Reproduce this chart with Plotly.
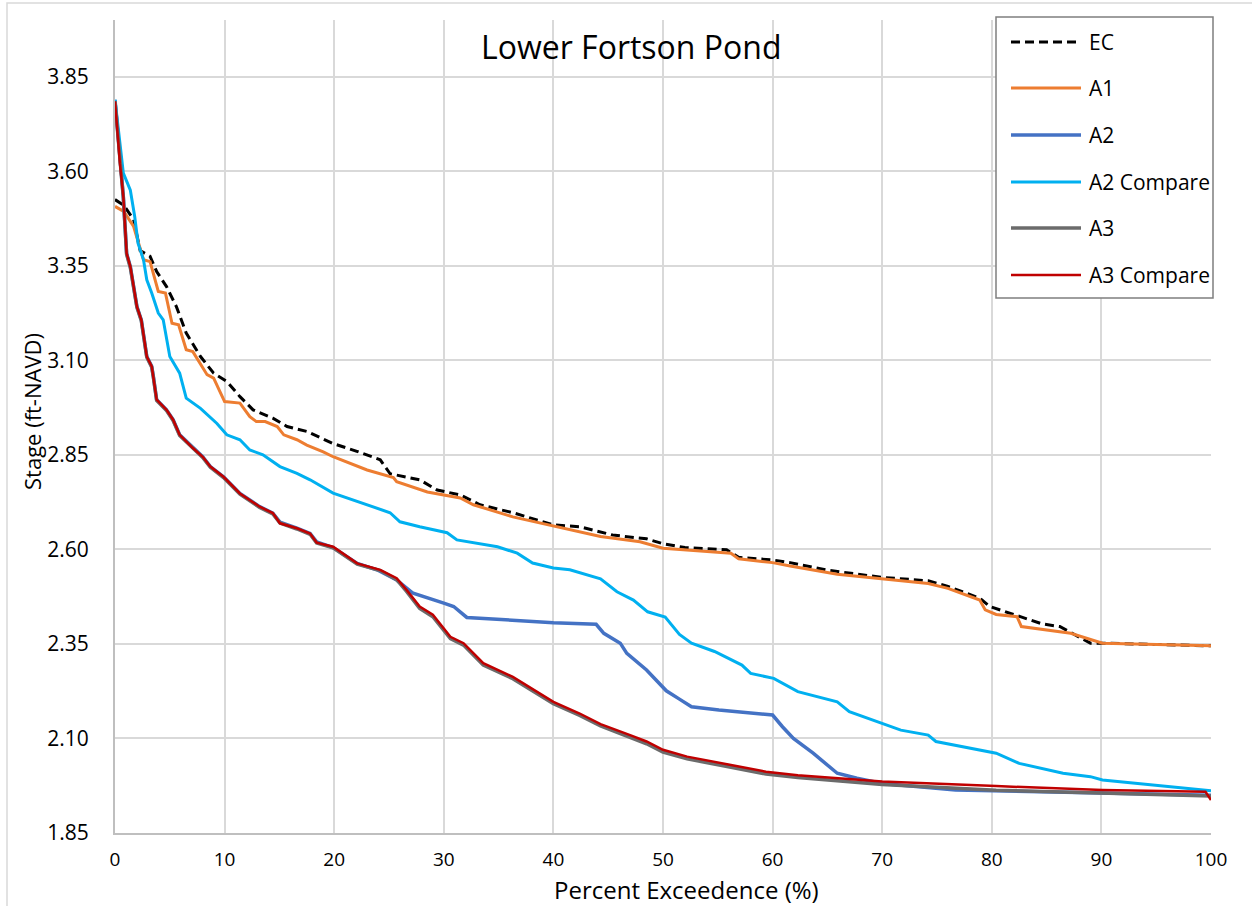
import plotly.graph_objects as go

# ---------------- data ----------------
categories = ["EC", "A1", "A2", "A2 Compare", "A3", "A3 Compare"]

ec_x = [0, 0.8, 1.7, 2.3, 3.2, 3.8, 4.7, 5.6, 6.5, 7.8, 9.0, 10.2, 11.4, 12.6, 14.4, 15.7, 17.5,
        19.9, 22.0, 24.2, 25.1, 27.8, 29.4, 31.5, 33.3, 36.3, 40.0, 42.4, 45.4, 48.5, 50.0, 52.0,
        55.8, 56.9, 60.0, 61.6, 65.0, 70.0, 74.2, 76.0, 78.9, 79.8, 82.6, 84.6, 86.2, 87.6, 89.0,
        90.1, 95.0, 100]
ec_y = [3.525, 3.51, 3.472, 3.39, 3.375, 3.335, 3.295, 3.242, 3.172, 3.11, 3.066, 3.044, 3.004,
        2.969, 2.947, 2.925, 2.912, 2.88, 2.86, 2.837, 2.80, 2.784, 2.757, 2.744, 2.718, 2.697,
        2.665, 2.66, 2.638, 2.628, 2.615, 2.605, 2.599, 2.579, 2.572, 2.565, 2.545, 2.526, 2.517,
        2.502, 2.471, 2.449, 2.422, 2.403, 2.396, 2.374, 2.352, 2.352, 2.348, 2.345]

a1_x = [0, 0.8, 1.7, 2.6, 3.2, 3.95, 4.6, 5.2, 5.8, 6.5, 7.1, 8.4, 9.0, 10.0, 11.4, 12.3, 12.9,
        13.7, 14.8, 15.4, 16.6, 17.5, 19.0, 19.9, 23.0, 25.4, 25.7, 28.5, 31.5, 32.7, 36.3, 40.6,
        44.3, 47.9, 50.0, 56.2, 56.9, 60.0, 61.6, 65.9, 70.0, 74.2, 76.0, 78.9, 79.4, 80.4, 82.3,
        82.7, 87.2, 89.0, 90.1, 100]
a1_y = [3.507, 3.494, 3.454, 3.366, 3.361, 3.282, 3.278, 3.198, 3.194, 3.128, 3.123, 3.062, 3.053,
        2.991, 2.987, 2.951, 2.938, 2.938, 2.925, 2.903, 2.89, 2.876, 2.858, 2.845, 2.81, 2.79,
        2.779, 2.752, 2.736, 2.718, 2.686, 2.657, 2.634, 2.62, 2.603, 2.59, 2.575, 2.565, 2.556,
        2.534, 2.522, 2.51, 2.497, 2.466, 2.44, 2.428, 2.422, 2.396, 2.378, 2.362, 2.352, 2.345]

a2_x = [0, 0.45, 0.76, 1.06, 1.4, 2.0, 2.4, 2.9, 3.35, 3.5, 3.8, 4.7, 5.3, 5.9, 7.1, 8.0, 8.7,
        9.9, 11.4, 13.2, 14.4, 15.05, 16.6, 17.8, 18.4, 19.9, 22.1, 23.9, 25.7, 27.2, 30.0, 30.9,
        32.1, 40.0, 43.9, 44.6, 46.1, 46.7, 48.5, 50.3, 51.5, 52.6, 55.1, 60.0, 60.9, 61.9, 63.7,
        65.9, 67.7, 70.0, 76.7, 90.1, 100]
a2_y = [3.789, 3.622, 3.533, 3.383, 3.348, 3.242, 3.207, 3.11, 3.084, 3.057, 2.996, 2.969, 2.943,
        2.903, 2.868, 2.845, 2.819, 2.792, 2.748, 2.713, 2.696, 2.672, 2.656, 2.642, 2.62, 2.605,
        2.563, 2.546, 2.519, 2.484, 2.458, 2.449, 2.42, 2.406, 2.402, 2.378, 2.352, 2.325, 2.281,
        2.226, 2.204, 2.184, 2.175, 2.162, 2.131, 2.1, 2.061, 2.008, 1.995, 1.981, 1.964, 1.955,
        1.95]

a2c_x = [0, 0.3, 0.76, 1.4, 1.8, 2.1, 2.6, 2.9, 3.35, 3.95, 4.4, 5.0, 5.9, 6.5, 7.8, 9.3, 10.2,
         11.4, 12.3, 13.5, 15.05, 16.6, 17.8, 19.9, 23.0, 25.1, 26.0, 27.8, 30.3, 31.2, 34.9, 36.7,
         38.1, 40.0, 41.5, 44.3, 45.8, 47.3, 48.6, 50.2, 51.5, 52.6, 54.7, 57.2, 58.0, 60.1, 62.3,
         65.9, 67.0, 69.9, 71.7, 74.2, 74.9, 80.4, 82.5, 86.5, 89.0, 90.1, 94.8, 100]
a2c_y = [3.789, 3.71, 3.595, 3.55, 3.48, 3.41, 3.366, 3.313, 3.278, 3.225, 3.207, 3.11, 3.066, 3.0,
         2.973, 2.933, 2.903, 2.89, 2.863, 2.85, 2.819, 2.801, 2.784, 2.749, 2.718, 2.697, 2.673,
         2.66, 2.644, 2.625, 2.607, 2.59, 2.564, 2.551, 2.546, 2.522, 2.488, 2.466, 2.435, 2.421,
         2.375, 2.352, 2.33, 2.294, 2.272, 2.259, 2.224, 2.197, 2.171, 2.14, 2.122, 2.109, 2.092,
         2.061, 2.034, 2.008, 1.999, 1.99, 1.977, 1.962]

a3_x = [0, 0.45, 0.76, 1.06, 1.4, 2.0, 2.4, 2.9, 3.35, 3.5, 3.8, 4.7, 5.3, 5.9, 7.1, 8.0, 8.7,
        9.9, 11.4, 13.2, 14.4, 15.05, 16.6, 17.8, 18.4, 19.9, 22.1, 24.2, 25.7, 26.6, 27.8, 29.0,
        30.6, 31.8, 33.6, 36.3, 40.0, 42.4, 44.3, 47.0, 48.5, 50.0, 52.2, 56.2, 59.4, 62.3, 66.0,
        70.0, 80.4, 90.1, 100]
a3_y = [3.785, 3.62, 3.53, 3.38, 3.345, 3.24, 3.205, 3.108, 3.082, 3.055, 2.994, 2.967, 2.941,
        2.901, 2.866, 2.843, 2.817, 2.79, 2.746, 2.711, 2.694, 2.67, 2.654, 2.64, 2.617, 2.604,
        2.561, 2.544, 2.52, 2.489, 2.444, 2.422, 2.364, 2.347, 2.294, 2.258, 2.192, 2.161, 2.133,
        2.103, 2.086, 2.064, 2.046, 2.024, 2.006, 1.997, 1.988, 1.978, 1.963, 1.955, 1.948]

a3c_x = [0, 0.45, 0.76, 1.06, 1.4, 2.0, 2.4, 2.9, 3.35, 3.5, 3.8, 4.7, 5.3, 5.9, 7.1, 8.0, 8.7,
         9.9, 11.4, 13.2, 14.4, 15.05, 16.6, 17.8, 18.4, 19.9, 22.1, 24.2, 25.7, 26.6, 27.8, 29.0,
         30.6, 31.8, 33.6, 36.3, 40.0, 42.4, 44.3, 47.0, 48.5, 50.0, 52.2, 56.2, 59.4, 62.3, 70.0,
         80.4, 90.1, 99.5, 100]
a3c_y = [3.785, 3.62, 3.533, 3.383, 3.348, 3.242, 3.207, 3.11, 3.084, 3.057, 2.996, 2.969, 2.943,
         2.903, 2.868, 2.845, 2.819, 2.792, 2.748, 2.713, 2.696, 2.669, 2.656, 2.642, 2.618, 2.607,
         2.563, 2.546, 2.524, 2.493, 2.449, 2.427, 2.369, 2.352, 2.299, 2.263, 2.197, 2.166, 2.138,
         2.109, 2.092, 2.07, 2.052, 2.03, 2.012, 2.003, 1.986, 1.974, 1.964, 1.959, 1.937]

x_ticks = [0, 10, 20, 30, 40, 50, 60, 70, 80, 90, 100]
y_ticks = [1.85, 2.10, 2.35, 2.60, 2.85, 3.10, 3.35, 3.60, 3.85]
y_tick_labels = ["1.85", "2.10", "2.35", "2.60", "2.85", "3.10", "3.35", "3.60", "3.85"]

title_text = "Lower Fortson Pond"
x_title = "Percent Exceedence (%)"
y_title = "Stage (ft-NAVD)"

# ---------------- styling ----------------
colors = ["#000000", "#ED7D31", "#4472C4", "#00B0F0", "#6B6B6B", "#C00000"]
widths = [3, 3, 3.5, 3, 3.5, 2.5]
dashes = ["9px,5px", "solid", "solid", "solid", "solid", "solid"]
series = [(ec_x, ec_y), (a1_x, a1_y), (a2_x, a2_y), (a2c_x, a2c_y), (a3_x, a3_y), (a3c_x, a3c_y)]

FONT = "Open Sans, Noto Sans, sans-serif"
W, H = 1252, 906
L, R, T, B = 115, 1211, 20, 833  # plot area in pixels


def px(xp):
    return (xp - L) / (R - L)


def py(yp):
    return (B - yp) / (B - T)


fig = go.Figure()
for name, (xs, ys), c, w, d in zip(categories, series, colors, widths, dashes):
    fig.add_trace(go.Scatter(x=xs, y=ys, mode="lines", name=name, showlegend=False,
                             line=dict(color=c, width=w, dash=d)))

shapes = []
annotations = []

# outer chart-area border
shapes.append(dict(type="rect", xref="paper", yref="paper", x0=px(7), x1=px(1262), y0=py(3),
                   y1=py(920), line=dict(color="#D9D9D9", width=1.5), fillcolor="rgba(0,0,0,0)",
                   layer="below"))

# legend (drawn manually to match the reference box)
shapes.append(dict(type="rect", xref="paper", yref="paper", x0=px(996), x1=px(1213), y0=py(17),
                   y1=py(298), line=dict(color="#7F7F7F", width=1.5), fillcolor="white",
                   layer="above"))
row_y = [42, 88, 135, 182, 228, 275]
for name, c, w, d, ry in zip(categories, colors, widths, dashes, row_y):
    shapes.append(dict(type="line", xref="paper", yref="paper", x0=px(1011), x1=px(1081),
                       y0=py(ry), y1=py(ry), line=dict(color=c, width=min(w, 3.5), dash=d),
                       layer="above"))
    annotations.append(dict(text=name, xref="paper", yref="paper", x=px(1087), y=py(ry),
                            xanchor="left", yanchor="middle", showarrow=False,
                            font=dict(family=FONT, size=21, color="#000000")))

# titles
annotations.append(dict(text=title_text, xref="paper", yref="paper", x=px(631), y=py(46),
                        xanchor="center", yanchor="middle", showarrow=False,
                        font=dict(family=FONT, size=32, color="#000000")))
annotations.append(dict(text=x_title, xref="paper", yref="paper", x=px(686), y=py(889),
                        xanchor="center", yanchor="middle", showarrow=False,
                        font=dict(family=FONT, size=24, color="#000000")))
annotations.append(dict(text=y_title, xref="paper", yref="paper", x=px(32), y=py(412),
                        xanchor="center", yanchor="middle", showarrow=False, textangle=-90,
                        font=dict(family=FONT, size=22, color="#000000")))

fig.update_layout(
    width=W, height=H,
    margin=dict(l=L, r=W - R, t=T, b=H - B, pad=0),
    paper_bgcolor="white", plot_bgcolor="white",
    shapes=shapes, annotations=annotations,
    showlegend=False,
    xaxis=dict(range=[0, 100], tickvals=x_ticks, ticktext=[str(v) for v in x_ticks],
               showgrid=True, gridcolor="#D9D9D9", gridwidth=2, zeroline=False,
               showline=True, linecolor="#BFBFBF", linewidth=2,
               ticks="outside", ticklen=8, tickcolor="rgba(0,0,0,0)",
               tickfont=dict(family=FONT, size=19, color="#000000"), fixedrange=True),
    yaxis=dict(range=[1.85, 4.0], tickvals=y_ticks, ticktext=y_tick_labels,
               showgrid=True, gridcolor="#D9D9D9", gridwidth=2, zeroline=False,
               showline=True, linecolor="#BFBFBF", linewidth=2,
               ticks="outside", ticklen=20, tickcolor="rgba(0,0,0,0)",
               tickfont=dict(family=FONT, size=21, color="#000000"), fixedrange=True),
)

fig.write_html("out.html", config={"displayModeBar": False},
               post_script="document.body.style.margin='0';document.body.style.overflow='hidden';")
